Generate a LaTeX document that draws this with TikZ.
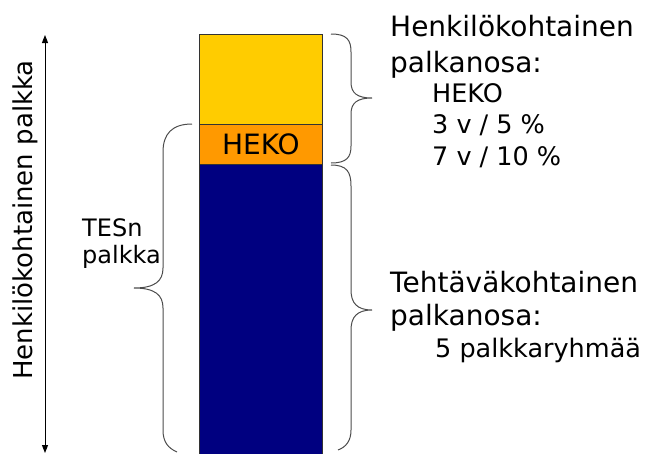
\documentclass[tikz,border=0pt]{standalone}
\usepackage{fontspec}
\setmainfont{DejaVu Sans}
\usetikzlibrary{arrows.meta}
\definecolor{gold}{HTML}{FFCC00}
\definecolor{amber}{HTML}{FF9900}
\definecolor{navyblue}{HTML}{000080}
\begin{document}
\begin{tikzpicture}[x=1pt,y=-1pt,
  seg/.style={draw=black!80, line width=0.8pt, inner sep=0pt, minimum width=123pt, anchor=north west},
  bracepath/.style={draw=black!70, line width=1pt},
  head/.style={anchor=base west, inner sep=0pt, font=\fontsize{28}{34}\selectfont},
  sub/.style={anchor=base west, inner sep=0pt, font=\fontsize{25.5}{31}\selectfont},
  side/.style={anchor=base west, inner sep=0pt, font=\fontsize{24}{29}\selectfont}]
\useasboundingbox (0,0) rectangle (662,453);
% bar
\node[seg, fill=gold, minimum height=90pt] (top) at (199,34) {};
\node[seg, fill=amber, minimum height=40pt, font=\fontsize{28}{34}\selectfont] (heko) at (199,124) {HEKO};
\node[seg, fill=navyblue, minimum height=290pt] (base) at (199,164) {};
% arrow
\coordinate (atop) at (45,35);
\coordinate (abot) at (45,453);
\draw[line width=1pt, {Triangle[length=8pt,width=6pt]}-{Triangle[length=8pt,width=6pt]}] (atop) -- (abot);
\node[rotate=90, font=\fontsize{26}{31}\selectfont, inner sep=0pt] (vlabel) at (25,220) {Henkilökohtainen palkka};
% braces
\draw[bracepath] (331,34) .. controls (347,34) and (351,40) .. (351,52) -- (351,82)
  .. controls (351,93) and (357,98) .. (372,98)
  .. controls (357,98) and (351,103) .. (351,114) -- (351,146)
  .. controls (351,157) and (347,163) .. (331,163);
\draw[bracepath] (331,165) .. controls (347,165) and (351,172) .. (351,186) -- (351,290)
  .. controls (351,303) and (357,310) .. (372,310)
  .. controls (357,310) and (351,317) .. (351,330) -- (351,430)
  .. controls (351,441) and (346,447) .. (338,450);
\draw[bracepath] (192,124) .. controls (172,124) and (163,134) .. (163,152) -- (163,268)
  .. controls (163,281) and (155,288) .. (134,288)
  .. controls (155,288) and (163,295) .. (163,308) -- (163,430)
  .. controls (163,442) and (168,448) .. (177,452);
% texts
\node[head] (h1) at (390,36) {Henkilökohtainen};
\node[head] (h2) at (390,72) {palkanosa:};
\node[sub] (h3) at (432,102) {HEKO};
\node[sub] (h4) at (432,133) {3 v / 5 \%};
\node[sub] (h5) at (432,165) {7 v / 10 \%};
\node[head] (t1) at (390,292) {Tehtäväkohtainen};
\node[head] (t2) at (390,325) {palkanosa:};
\node[sub] (t3) at (435,357) {5 palkkaryhmää};
\node[side] (l1) at (82,236) {TESn};
\node[side] (l2) at (82,263) {palkka};
\end{tikzpicture}
\end{document}
